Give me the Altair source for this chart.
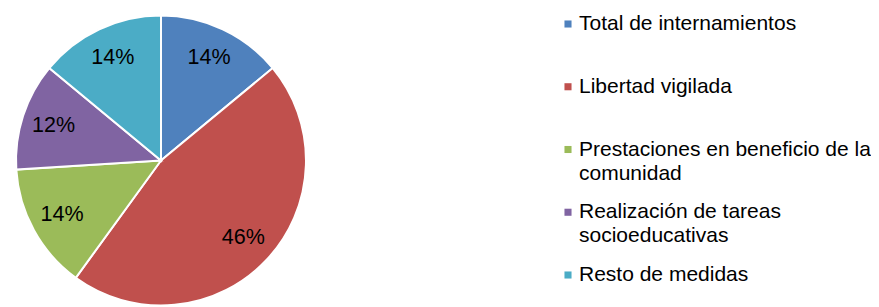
import altair as alt
import pandas as pd

categories = [
    "Total de internamientos",
    "Libertad vigilada",
    "Prestaciones en beneficio de la comunidad",
    "Realización de tareas socioeducativas",
    "Resto de medidas",
]
legend_labels = [
    "Total de internamientos",
    "Libertad vigilada",
    "Prestaciones en beneficio de la\ncomunidad",
    "Realización de tareas\nsocioeducativas",
    "Resto de medidas",
]
values = [14, 46, 14, 12, 14]
colors = ["#4F81BD", "#C0504D", "#9BBB59", "#8064A2", "#4BACC6"]

df = pd.DataFrame({
    "cat": categories,
    "label": legend_labels,
    "value": values,
    "order": list(range(len(categories))),
})
df["pct"] = df["value"].astype(str) + "%"

color = alt.Color("cat:N", scale=alt.Scale(domain=categories, range=colors), legend=None)

base = alt.Chart(df).encode(
    theta=alt.Theta("value:Q", stack=True),
    order=alt.Order("order:Q"),
)
arcs = base.mark_arc(outerRadius=145, stroke="white", strokeWidth=2).encode(color=color)
texts = base.mark_text(radius=113, fontSize=21.5, font="Liberation Sans", color="black").encode(
    text="pct:N"
)
pie = (arcs + texts).properties(width=306, height=305)

ysc = alt.Y("cat:N", sort=categories, scale=alt.Scale(type="point", padding=0.255), axis=None)
leg_base = alt.Chart(df).encode(y=ysc)
sq = leg_base.mark_square(size=50, opacity=1).encode(x=alt.value(4), color=color)
lt = leg_base.mark_text(
    align="left", baseline="middle", fontSize=21, font="Liberation Sans",
    lineBreak="\n", lineHeight=24, color="black",
).encode(x=alt.value(15), text="label:N")
legend = (sq + lt).properties(width=290, height=283)

chart = (
    alt.hconcat(pie, legend, spacing=250)
    .properties(padding=0)
    .configure_view(stroke=None)
)
chart.save("out.html", embed_options={"renderer": "svg", "actions": False})
